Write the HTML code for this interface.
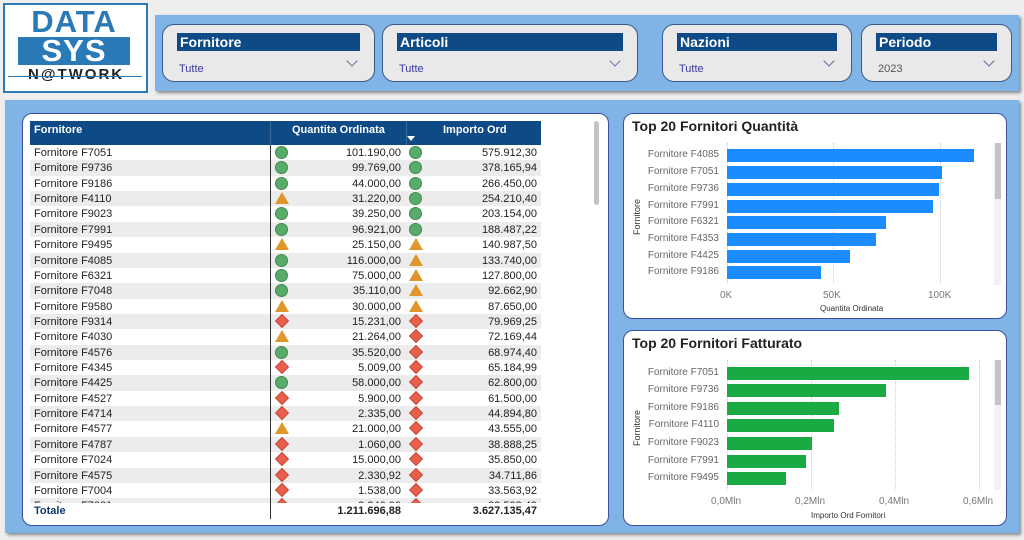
<!DOCTYPE html>
<html><head><meta charset="utf-8"><style>
*{margin:0;padding:0;box-sizing:border-box}
body{width:1024px;height:540px;position:relative;background:#eeeeee;font-family:"Liberation Sans",sans-serif;overflow:hidden}
.abs{position:absolute}
.blue{background:#80b4e6;box-shadow:2px 2px 3px #888}
.slicer{position:absolute;top:24px;height:58px;background:#e9e9e9;border:1px solid #3a5a8a;border-radius:12px}
.slicer .h{position:absolute;left:14px;right:14px;top:8px;height:18px;background:#0d4a86;color:#fff;font-weight:bold;font-size:14px;line-height:18px;padding-left:3px}
.slicer .v{position:absolute;left:16px;top:38px;font-size:11px;color:#3a3aa0}
.slicer .c{position:absolute;right:18px;top:32px;width:8px;height:8px;border-right:1px solid #5b6fa0;border-bottom:1px solid #5b6fa0;transform:rotate(45deg)}
.card{position:absolute;background:#fff;border:1px solid #3c50a0;border-radius:10px}
.row{position:absolute;left:30px;width:511px;height:15.36px;font-size:11px;color:#222;line-height:16px}
.row span{position:absolute}
.n{left:4px}.q{right:140px}.i{right:4px}
.ic1{left:245px;top:1px}.ic2{left:379px;top:1px}
.g{width:13px;height:13px;border-radius:50%;background:#5aab6a;border:1px solid #3f8a50}
.t{width:0;height:0;border-left:7px solid transparent;border-right:7px solid transparent;border-bottom:12px solid #e0962a}
.d{width:10px;height:10px;background:#e8604c;transform:translate(2px,1px) rotate(45deg);border:1px solid #c84a3a}
.lbl{position:absolute;font-size:10px;color:#666;text-align:right;width:100px}
.bar{position:absolute;height:13px}
.tick{position:absolute;font-size:10px;color:#777}
.grid{position:absolute;width:0;border-left:1px dotted #ccc}
</style></head><body>
<div class="abs" style="left:3px;top:3px;width:145px;height:90px;background:#fff;border:2px solid #2a7ab8"></div>
<div class="abs" style="left:18px;top:8px;width:112px;height:28px;font-size:31px;font-weight:bold;color:#2a7ab8;line-height:28px;text-align:center;letter-spacing:1px">DATA</div>
<div class="abs" style="left:18px;top:37px;width:112px;height:28px;background:#2a7ab8;font-size:31px;font-weight:bold;color:#fff;line-height:28px;text-align:center;letter-spacing:1px">SYS</div>
<div class="abs" style="left:28px;top:66px;font-size:15px;font-weight:bold;color:#222;letter-spacing:2px">N@TWORK</div>
<div class="abs" style="left:8px;top:76px;width:134px;border-top:1px solid #2a7ab8"></div>

<div class="abs blue" style="left:155px;top:15px;width:864px;height:76px"></div>
<div class="slicer" style="left:162px;width:213px"><div class="h">Fornitore</div><div class="v">Tutte</div><div class="c"></div></div>
<div class="slicer" style="left:382px;width:256px"><div class="h">Articoli</div><div class="v">Tutte</div><div class="c"></div></div>
<div class="slicer" style="left:662px;width:190px"><div class="h">Nazioni</div><div class="v">Tutte</div><div class="c"></div></div>
<div class="slicer" style="left:861px;width:151px"><div class="h">Periodo</div><div class="v" style="color:#555">2023</div><div class="c"></div></div>

<div class="abs blue" style="left:5px;top:100px;width:1014px;height:433px"></div>

<div class="card" style="left:22px;top:113px;width:587px;height:413px"></div>
<div class="abs" style="left:30px;top:121px;width:511px;height:24px;background:#0d4a86;color:#fff;font-weight:bold;font-size:11px">
<span class="abs" style="left:4px;top:3px">Fornitore</span>
<span class="abs" style="left:262px;top:3px">Quantita Ordinata</span>
<span class="abs" style="left:413px;top:3px">Importo Ord</span>
<span class="abs" style="left:377px;top:15px;border-left:4px solid transparent;border-right:4px solid transparent;border-top:5px solid #fff"></span>
<span class="abs" style="left:240px;top:0;height:24px;border-left:1px solid #3a6a9a"></span>
<span class="abs" style="left:376px;top:0;height:24px;border-left:1px solid #3a6a9a"></span>
</div>
<div class="abs" style="left:0;top:145px;width:600px;height:358px;overflow:hidden">
<div style="position:absolute;left:0;top:0;width:600px">
<div class="row" style="top:0"><span class="n">Fornitore F7051</span><span class="ic1 g"></span><span class="q">101.190,00</span><span class="ic2 g"></span><span class="i">575.912,30</span></div>
<div class="row" style="top:15.36px;background:#ececec"><span class="n">Fornitore F9736</span><span class="ic1 g"></span><span class="q">99.769,00</span><span class="ic2 g"></span><span class="i">378.165,94</span></div>
<div class="row" style="top:30.72px"><span class="n">Fornitore F9186</span><span class="ic1 g"></span><span class="q">44.000,00</span><span class="ic2 g"></span><span class="i">266.450,00</span></div>
<div class="row" style="top:46.08px;background:#ececec"><span class="n">Fornitore F4110</span><span class="ic1 t"></span><span class="q">31.220,00</span><span class="ic2 g"></span><span class="i">254.210,40</span></div>
<div class="row" style="top:61.44px"><span class="n">Fornitore F9023</span><span class="ic1 g"></span><span class="q">39.250,00</span><span class="ic2 g"></span><span class="i">203.154,00</span></div>
<div class="row" style="top:76.8px;background:#ececec"><span class="n">Fornitore F7991</span><span class="ic1 g"></span><span class="q">96.921,00</span><span class="ic2 g"></span><span class="i">188.487,22</span></div>
<div class="row" style="top:92.16px"><span class="n">Fornitore F9495</span><span class="ic1 t"></span><span class="q">25.150,00</span><span class="ic2 t"></span><span class="i">140.987,50</span></div>
<div class="row" style="top:107.52px;background:#ececec"><span class="n">Fornitore F4085</span><span class="ic1 g"></span><span class="q">116.000,00</span><span class="ic2 t"></span><span class="i">133.740,00</span></div>
<div class="row" style="top:122.88px"><span class="n">Fornitore F6321</span><span class="ic1 g"></span><span class="q">75.000,00</span><span class="ic2 t"></span><span class="i">127.800,00</span></div>
<div class="row" style="top:138.24px;background:#ececec"><span class="n">Fornitore F7048</span><span class="ic1 g"></span><span class="q">35.110,00</span><span class="ic2 t"></span><span class="i">92.662,90</span></div>
<div class="row" style="top:153.6px"><span class="n">Fornitore F9580</span><span class="ic1 t"></span><span class="q">30.000,00</span><span class="ic2 t"></span><span class="i">87.650,00</span></div>
<div class="row" style="top:168.96px;background:#ececec"><span class="n">Fornitore F9314</span><span class="ic1 d"></span><span class="q">15.231,00</span><span class="ic2 d"></span><span class="i">79.969,25</span></div>
<div class="row" style="top:184.32px"><span class="n">Fornitore F4030</span><span class="ic1 t"></span><span class="q">21.264,00</span><span class="ic2 d"></span><span class="i">72.169,44</span></div>
<div class="row" style="top:199.68px;background:#ececec"><span class="n">Fornitore F4576</span><span class="ic1 g"></span><span class="q">35.520,00</span><span class="ic2 d"></span><span class="i">68.974,40</span></div>
<div class="row" style="top:215.04px"><span class="n">Fornitore F4345</span><span class="ic1 d"></span><span class="q">5.009,00</span><span class="ic2 d"></span><span class="i">65.184,99</span></div>
<div class="row" style="top:230.4px;background:#ececec"><span class="n">Fornitore F4425</span><span class="ic1 g"></span><span class="q">58.000,00</span><span class="ic2 d"></span><span class="i">62.800,00</span></div>
<div class="row" style="top:245.76px"><span class="n">Fornitore F4527</span><span class="ic1 d"></span><span class="q">5.900,00</span><span class="ic2 d"></span><span class="i">61.500,00</span></div>
<div class="row" style="top:261.12px;background:#ececec"><span class="n">Fornitore F4714</span><span class="ic1 d"></span><span class="q">2.335,00</span><span class="ic2 d"></span><span class="i">44.894,80</span></div>
<div class="row" style="top:276.48px"><span class="n">Fornitore F4577</span><span class="ic1 t"></span><span class="q">21.000,00</span><span class="ic2 d"></span><span class="i">43.555,00</span></div>
<div class="row" style="top:291.84px;background:#ececec"><span class="n">Fornitore F4787</span><span class="ic1 d"></span><span class="q">1.060,00</span><span class="ic2 d"></span><span class="i">38.888,25</span></div>
<div class="row" style="top:307.2px"><span class="n">Fornitore F7024</span><span class="ic1 d"></span><span class="q">15.000,00</span><span class="ic2 d"></span><span class="i">35.850,00</span></div>
<div class="row" style="top:322.56px;background:#ececec"><span class="n">Fornitore F4575</span><span class="ic1 d"></span><span class="q">2.330,92</span><span class="ic2 d"></span><span class="i">34.711,86</span></div>
<div class="row" style="top:337.92px"><span class="n">Fornitore F7004</span><span class="ic1 d"></span><span class="q">1.538,00</span><span class="ic2 d"></span><span class="i">33.563,92</span></div>
<div class="row" style="top:353.28px;background:#ececec"><span class="n">Fornitore F7081</span><span class="ic1 d"></span><span class="q">2.340,00</span><span class="ic2 d"></span><span class="i">32.593,49</span></div>
</div></div>
<div class="abs" style="left:270px;top:145px;height:374px;border-left:1px solid #333"></div>
<div class="abs" style="left:30px;top:505px;width:511px;font-size:11px;font-weight:bold;color:#0d3a70"><span class="abs" style="left:4px">Totale</span></div>
<div class="abs" style="left:30px;top:505px;width:511px;height:15px;font-size:11px;font-weight:bold;color:#222"><span class="abs" style="right:140px">1.211.696,88</span><span class="abs" style="right:4px">3.627.135,47</span></div>
<div class="abs" style="left:594px;top:121px;width:5px;height:84px;background:#c4c4c4;border-radius:3px"></div>

<div class="card" style="left:623px;top:113px;width:384px;height:206px"></div>
<div class="abs" style="left:632px;top:118px;font-size:14px;font-weight:bold;color:#222">Top 20 Fornitori Quantità</div>
<div class="abs" style="left:632px;top:235px;font-size:9px;color:#333;transform:rotate(-90deg);transform-origin:left top">Fornitore</div>
<div class="grid" style="left:727px;top:143px;height:140px"></div>
<div class="grid" style="left:833px;top:143px;height:140px"></div>
<div class="grid" style="left:940px;top:143px;height:140px"></div>
<div class="abs" style="left:994px;top:143px;width:7px;height:142px;background:#f2f2f2"></div>
<div class="abs" style="left:995px;top:143px;width:6px;height:56px;background:#c4c4c4"></div>
<div class="lbl" style="left:619px;top:149px">Fornitore F4085</div><div class="bar" style="left:727px;top:149px;width:247px;background:#1a8cff"></div>
<div class="lbl" style="left:619px;top:166px">Fornitore F7051</div><div class="bar" style="left:727px;top:166px;width:215px;background:#1a8cff"></div>
<div class="lbl" style="left:619px;top:183px">Fornitore F9736</div><div class="bar" style="left:727px;top:183px;width:212px;background:#1a8cff"></div>
<div class="lbl" style="left:619px;top:200px">Fornitore F7991</div><div class="bar" style="left:727px;top:200px;width:206px;background:#1a8cff"></div>
<div class="lbl" style="left:619px;top:216px">Fornitore F6321</div><div class="bar" style="left:727px;top:216px;width:159px;background:#1a8cff"></div>
<div class="lbl" style="left:619px;top:233px">Fornitore F4353</div><div class="bar" style="left:727px;top:233px;width:149px;background:#1a8cff"></div>
<div class="lbl" style="left:619px;top:250px">Fornitore F4425</div><div class="bar" style="left:727px;top:250px;width:123px;background:#1a8cff"></div>
<div class="lbl" style="left:619px;top:266px">Fornitore F9186</div><div class="bar" style="left:727px;top:266px;width:94px;background:#1a8cff"></div>
<div class="tick" style="left:720px;top:290px">0K</div>
<div class="tick" style="left:823px;top:290px">50K</div>
<div class="tick" style="left:928px;top:290px">100K</div>
<div class="abs" style="left:820px;top:304px;font-size:8px;color:#333">Quantita Ordinata</div>

<div class="card" style="left:623px;top:330px;width:384px;height:196px"></div>
<div class="abs" style="left:632px;top:335px;font-size:14px;font-weight:bold;color:#222">Top 20 Fornitori Fatturato</div>
<div class="abs" style="left:632px;top:446px;font-size:9px;color:#333;transform:rotate(-90deg);transform-origin:left top">Fornitore</div>
<div class="grid" style="left:727px;top:360px;height:130px"></div>
<div class="grid" style="left:811px;top:360px;height:130px"></div>
<div class="grid" style="left:895px;top:360px;height:130px"></div>
<div class="grid" style="left:979px;top:360px;height:130px"></div>
<div class="abs" style="left:994px;top:360px;width:7px;height:130px;background:#f2f2f2"></div>
<div class="abs" style="left:995px;top:360px;width:6px;height:45px;background:#c4c4c4"></div>
<div class="lbl" style="left:619px;top:367px">Fornitore F7051</div><div class="bar" style="left:727px;top:367px;width:242px;background:#1aaa44"></div>
<div class="lbl" style="left:619px;top:384px">Fornitore F9736</div><div class="bar" style="left:727px;top:384px;width:159px;background:#1aaa44"></div>
<div class="lbl" style="left:619px;top:402px">Fornitore F9186</div><div class="bar" style="left:727px;top:402px;width:112px;background:#1aaa44"></div>
<div class="lbl" style="left:619px;top:419px">Fornitore F4110</div><div class="bar" style="left:727px;top:419px;width:107px;background:#1aaa44"></div>
<div class="lbl" style="left:619px;top:437px">Fornitore F9023</div><div class="bar" style="left:727px;top:437px;width:85px;background:#1aaa44"></div>
<div class="lbl" style="left:619px;top:455px">Fornitore F7991</div><div class="bar" style="left:727px;top:455px;width:79px;background:#1aaa44"></div>
<div class="lbl" style="left:619px;top:472px">Fornitore F9495</div><div class="bar" style="left:727px;top:472px;width:59px;background:#1aaa44"></div>
<div class="tick" style="left:711px;top:496px">0,0Mln</div>
<div class="tick" style="left:795px;top:496px">0,2Mln</div>
<div class="tick" style="left:879px;top:496px">0,4Mln</div>
<div class="tick" style="left:963px;top:496px">0,6Mln</div>
<div class="abs" style="left:811px;top:511px;font-size:8px;color:#333">Importo Ord Fornitori</div>
</body></html>
